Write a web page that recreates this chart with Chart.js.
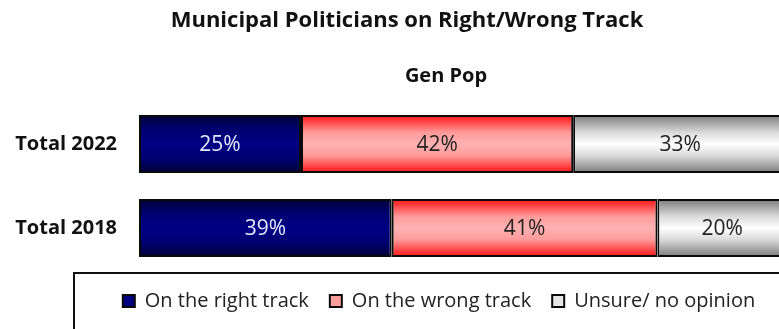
<!DOCTYPE html>
<html>
<head>
<meta charset="utf-8">
<script src="https://cdn.jsdelivr.net/npm/chart.js@4/dist/chart.umd.min.js"></script>
<style>
  html, body { margin: 0; padding: 0; background: #ffffff; overflow: hidden; }
  #wrap { position: relative; width: 880px; height: 340px; }
</style>
</head>
<body>
<div id="wrap"><canvas id="chart"></canvas></div>
<script>
  'use strict';

  var chartTitle = 'Municipal Politicians on Right/Wrong Track';
  var chartSubtitle = 'Gen Pop';
  var categories = ['Total 2022', 'Total 2018'];
  var seriesNames = ['On the right track', 'On the wrong track', 'Unsure/ no opinion'];
  var rightTrack = [25, 39];
  var wrongTrack = [42, 41];
  var unsure = [33, 20];

  var FONT = '"Open Sans", Lato, sans-serif';
  var BAR_PCT = 0.69;

  // vertical gradient for each bar, like the old Excel fill
  function barFill(stops) {
    return function (context) {
      var chart = context.chart;
      var y = chart.scales.y;
      if (!chart.chartArea || !y) return stops[Math.floor(stops.length / 2)][1];
      var center = y.getPixelForValue(context.dataIndex);
      var half = (y.height / categories.length) * BAR_PCT / 2;
      var g = chart.ctx.createLinearGradient(0, center - half, 0, center + half);
      stops.forEach(function (s) { g.addColorStop(s[0], s[1]); });
      return g;
    };
  }

  var navyStops = [[0, '#00003a'], [0.25, '#000070'], [0.5, '#000085'], [0.75, '#000070'], [1, '#00003a']];
  var redStops = [[0, '#ff1010'], [0.3, '#ff9a9a'], [0.5, '#ffb2b2'], [0.7, '#ff9a9a'], [1, '#ff1010']];
  var greyStops = [[0, '#7a7a7a'], [0.3, '#dadada'], [0.5, '#ffffff'], [0.7, '#dadada'], [1, '#7a7a7a']];

  var legendFill = ['#000080', '#ff9c9c', '#e6e6e6'];
  var labelColor = ['#e6e6ff', '#222222', '#222222'];

  var headerPlugin = {
    id: 'header',
    afterDraw: function (chart) {
      var ctx = chart.ctx;
      ctx.save();
      ctx.fillStyle = '#111111';
      ctx.textAlign = 'center';
      ctx.textBaseline = 'middle';
      ctx.font = 'bold 22px ' + FONT;
      ctx.fillText(chartTitle, 407, 21);
      ctx.font = 'bold 20px ' + FONT;
      ctx.fillText(chartSubtitle, 446, 76);
      ctx.restore();
    }
  };

  var valueLabels = {
    id: 'valueLabels',
    afterDatasetsDraw: function (chart) {
      var ctx = chart.ctx;
      ctx.save();
      ctx.font = '21px ' + FONT;
      ctx.textAlign = 'center';
      ctx.textBaseline = 'middle';
      chart.data.datasets.forEach(function (ds, i) {
        var meta = chart.getDatasetMeta(i);
        meta.data.forEach(function (bar, j) {
          ctx.fillStyle = labelColor[i];
          ctx.fillText(ds.data[j] + '%', (bar.x + bar.base) / 2, bar.y + 1);
        });
      });
      ctx.restore();
    }
  };

  var legendFrame = {
    id: 'legendFrame',
    afterDraw: function (chart) {
      var ctx = chart.ctx;
      ctx.save();
      ctx.strokeStyle = '#111111';
      ctx.lineWidth = 2;
      ctx.strokeRect(74, 273, 900, 100);
      ctx.restore();
    }
  };

  function makeSet(name, values, stops) {
    return {
      label: name,
      data: values,
      backgroundColor: barFill(stops),
      borderColor: '#0a0a0a',
      borderWidth: 2,
      borderSkipped: false,
      categoryPercentage: 1,
      barPercentage: BAR_PCT
    };
  }

  new Chart(document.getElementById('chart'), {
    type: 'bar',
    data: {
      labels: categories,
      datasets: [
        makeSet(seriesNames[0], rightTrack, navyStops),
        makeSet(seriesNames[1], wrongTrack, redStops),
        makeSet(seriesNames[2], unsure, greyStops)
      ]
    },
    options: {
      indexAxis: 'y',
      responsive: true,
      maintainAspectRatio: false,
      animation: false,
      layout: { padding: { top: 102, left: 0, right: 2, bottom: 19 } },
      scales: {
        x: { stacked: true, min: 0, max: 100, display: false },
        y: {
          stacked: true,
          grid: { display: false, drawTicks: false },
          border: { display: false },
          ticks: { color: '#111111', padding: 22, font: { family: FONT, size: 20, weight: 'bold' } },
          afterFit: function (scale) { scale.width = 139; }
        },
        // empty right-hand axis: keeps the plot narrower than the legend row
        yRight: {
          type: 'category',
          position: 'right',
          grid: { display: false, drawTicks: false },
          border: { display: false },
          ticks: { display: false },
          afterFit: function (scale) { scale.width = 91; }
        }
      },
      plugins: {
        title: { display: false },
        tooltip: { enabled: false },
        legend: {
          position: 'bottom',
          labels: {
            color: '#222222',
            font: { family: FONT, size: 20 },
            boxWidth: 12,
            boxHeight: 12,
            padding: 21,
            generateLabels: function (chart) {
              return seriesNames.map(function (name, i) {
                return {
                  text: name,
                  fillStyle: legendFill[i],
                  strokeStyle: '#0a0a0a',
                  lineWidth: 2,
                  fontColor: '#222222',
                  datasetIndex: i
                };
              });
            }
          }
        }
      }
    },
    plugins: [headerPlugin, valueLabels, legendFrame]
  });
</script>
</body>
</html>
